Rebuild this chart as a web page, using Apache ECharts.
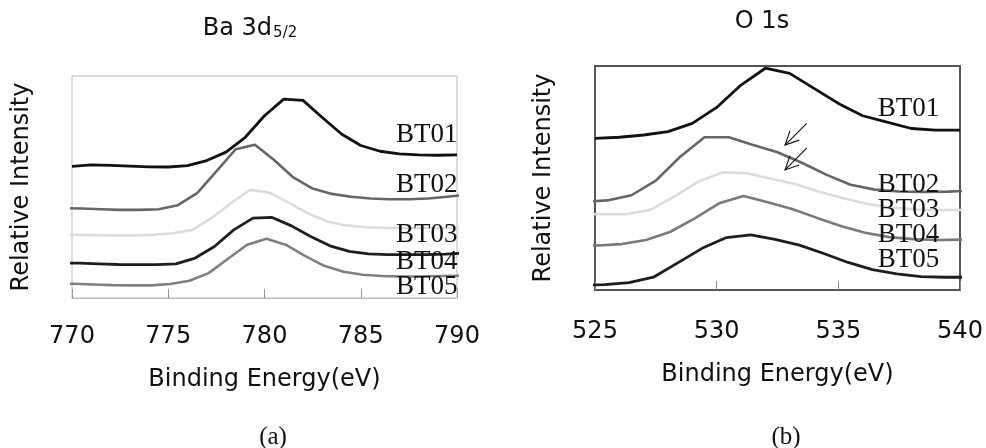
<!DOCTYPE html>
<html>
<head>
<meta charset="utf-8">
<script src="https://cdn.jsdelivr.net/npm/echarts@6/dist/echarts.min.js"></script>
<style>
  html, body { margin: 0; padding: 0; background: #fff; }
  #chart { width: 986px; height: 448px; }
</style>
</head>
<body>
<div id="chart"></div>
<script>
  // sample names
  const sampleNames = ['BT01', 'BT02', 'BT03', 'BT04', 'BT05'];

  // (a) Ba 3d5/2 - binding energy (eV) and relative intensity per sample
  const baEnergy01 = [770, 771, 772, 773, 774, 775, 776, 777, 778, 779, 780, 781, 782, 783, 784, 785, 786, 787, 788, 789, 790];
  const baInt01 = [59.3, 60.0, 59.7, 59.4, 59.1, 59.0, 59.6, 61.9, 65.7, 72.4, 82.1, 89.6, 89.0, 81.3, 73.9, 68.7, 66.1, 64.9, 64.5, 64.3, 64.5];
  const baEnergy02 = [769.5, 770.5, 771.5, 772.5, 773.5, 774.5, 775.5, 776.5, 777.5, 778.5, 779.5, 780.5, 781.5, 782.5, 783.5, 784.5, 785.5, 786.5, 787.5, 788.5, 789.5, 790.5];
  const baInt02 = [40.5, 40.3, 40.0, 39.7, 39.7, 40.0, 41.8, 47.2, 57.0, 67.0, 69.0, 62.2, 54.3, 49.3, 46.9, 45.6, 44.8, 44.5, 44.5, 44.8, 45.6, 46.5];
  const baEnergy03 = [769.25, 770.25, 771.25, 772.25, 773.25, 774.25, 775.25, 776.25, 777.25, 778.25, 779.25, 780.25, 781.25, 782.25, 783.25, 784.25, 785.25, 786.25, 787.25, 788.25, 789.25, 790.25];
  const baInt03 = [28.5, 28.5, 28.3, 28.2, 28.2, 28.5, 29.2, 30.7, 36.0, 42.7, 48.7, 47.5, 43.0, 38.2, 34.5, 32.7, 31.9, 31.6, 31.5, 31.5, 31.5, 31.5];
  const baEnergy04 = [769.4, 770.4, 771.4, 772.4, 773.4, 774.4, 775.4, 776.4, 777.4, 778.4, 779.4, 780.4, 781.4, 782.4, 783.4, 784.4, 785.4, 786.4, 787.4, 788.4, 789.4, 790.4];
  const baInt04 = [15.8, 15.7, 15.4, 15.1, 15.0, 15.0, 15.4, 18.0, 23.2, 30.7, 36.0, 36.3, 32.5, 27.7, 23.5, 21.0, 19.9, 19.5, 19.5, 19.5, 19.8, 20.2];
  const baEnergy05 = [769.1, 770.1, 771.1, 772.1, 773.1, 774.1, 775.1, 776.1, 777.1, 778.1, 779.1, 780.1, 781.1, 782.1, 783.1, 784.1, 785.1, 786.1, 787.1, 788.1, 789.1, 790.1];
  const baInt05 = [6.6, 6.4, 6.1, 5.8, 5.7, 5.7, 6.3, 7.8, 11.2, 17.7, 24.0, 26.7, 24.0, 19.0, 14.5, 11.8, 10.5, 9.9, 9.7, 9.7, 9.9, 10.0];

  // (b) O 1s
  const oEnergy01 = [525, 526, 527, 528, 529, 530, 531, 532, 533, 534, 535, 536, 537, 538, 539, 540];
  const oInt01 = [67.7, 68.2, 69.2, 70.7, 74.4, 81.5, 91.5, 99.0, 96.7, 90.0, 83.3, 77.8, 74.9, 72.1, 71.4, 71.4];
  const oEnergy02 = [524.5, 525.5, 526.5, 527.5, 528.5, 529.5, 530.5, 531.5, 532.5, 533.5, 534.5, 535.5, 536.5, 537.5, 538.5, 539.5, 540.5];
  const oInt02 = [39.4, 40.0, 42.3, 48.8, 59.5, 68.2, 68.2, 64.7, 61.5, 56.8, 51.5, 47.0, 44.8, 44.0, 43.8, 43.9, 44.4];
  const oEnergy03 = [524.25, 525.25, 526.25, 527.25, 528.25, 529.25, 530.25, 531.25, 532.25, 533.25, 534.25, 535.25, 536.25, 537.25, 538.25, 539.25, 540.25];
  const oInt03 = [33.8, 33.8, 33.8, 35.7, 41.7, 48.4, 52.5, 52.1, 49.7, 47.2, 43.8, 40.8, 38.3, 36.8, 35.9, 35.7, 35.7];
  const oEnergy04 = [524.1, 525.1, 526.1, 527.1, 528.1, 529.1, 530.1, 531.1, 532.1, 533.1, 534.1, 535.1, 536.1, 537.1, 538.1, 539.1, 540.1];
  const oInt04 = [19.8, 19.9, 20.5, 22.3, 26.0, 32.0, 38.7, 42.0, 39.2, 36.2, 32.3, 28.6, 25.6, 23.6, 22.7, 22.3, 22.5];
  const oEnergy05 = [524.4, 525.4, 526.4, 527.4, 528.4, 529.4, 530.4, 531.4, 532.4, 533.4, 534.4, 535.4, 536.4, 537.4, 538.4, 539.4, 540.4];
  const oInt05 = [2.1, 2.4, 3.3, 5.7, 12.1, 18.6, 23.4, 24.6, 22.6, 20.0, 16.3, 12.3, 9.1, 7.2, 6.0, 5.7, 5.7];

  // label anchors [energy, intensity] for the sample names
  const baLabelAt = [[786.8, 73.4], [786.8, 50.9], [786.8, 28.4], [786.8, 16.2], [786.8, 5.0]];
  const oLabelAt = [[536.6, 80.8], [536.6, 46.9], [536.6, 35.7], [536.6, 24.6], [536.6, 13.4]];

  // arrows in O 1s panel: [fromE, fromI, toE, toI]
  const oArrows = [[533.7, 74.4, 532.81, 64.7], [533.7, 63.3, 532.81, 53.6]];

  const baLines = [[baEnergy01, baInt01], [baEnergy02, baInt02], [baEnergy03, baInt03], [baEnergy04, baInt04], [baEnergy05, baInt05]];
  const oLines = [[oEnergy01, oInt01], [oEnergy02, oInt02], [oEnergy03, oInt03], [oEnergy04, oInt04], [oEnergy05, oInt05]];

  const baColors = ['#111111', '#666666', '#dcdcdc', '#1e1e1e', '#808080'];
  const oColors = ['#111111', '#666666', '#dcdcdc', '#7a7a7a', '#1e1e1e'];

  const sans = 'DejaVu Sans';
  const serif = 'Liberation Serif';

  function pairs(xs, ys) {
    return xs.map((x, i) => [x, ys[i]]);
  }

  function makeSeries(lines, colors, labelAt, idx) {
    return lines.map((ln, i) => ({
      name: sampleNames[i] + (idx ? '_o' : '_ba'),
      type: 'line',
      xAxisIndex: idx,
      yAxisIndex: idx,
      data: pairs(ln[0], ln[1]),
      symbol: 'none',
      clip: true,
      lineStyle: { color: colors[i], width: (colors[i] === '#111111' || colors[i] === '#1e1e1e') ? 2.8 : 2.6 },
      z: 2,
      markPoint: {
        symbol: 'circle',
        symbolSize: 1,
        itemStyle: { color: 'rgba(0,0,0,0)' },
        animation: false,
        z: 5,
        label: {
          show: true,
          position: 'right',
          distance: 0,
          formatter: sampleNames[i],
          color: '#111',
          fontFamily: serif,
          fontSize: 27
        },
        data: [{ coord: labelAt[i] }]
      }
    }));
  }

  let dom = document.getElementById('chart');
  let myChart = echarts.init(dom, null, { renderer: 'canvas' });

  let axisName = { fontFamily: sans, fontSize: 24, color: '#111' };

  let option = {
    animation: false,
    backgroundColor: '#fff',
    title: [
      {
        text: '{a|Ba 3d}{s|5/2}',
        left: 245, top: 12, textAlign: 'center',
        textStyle: {
          fontWeight: 'normal',
          rich: {
            a: { fontFamily: sans, fontSize: 24, fontWeight: 'normal', color: '#111' },
            s: { fontFamily: sans, fontSize: 15, fontWeight: 'normal', color: '#111', verticalAlign: 'bottom', padding: [0, 0, 0, 1] }
          }
        }
      },
      { text: 'O 1s', left: 757, top: 5, textAlign: 'center', textStyle: { fontFamily: sans, fontSize: 24, fontWeight: 'normal', color: '#111' } },
      { text: '(a)', left: 268, top: 420, textAlign: 'center', textStyle: { fontFamily: serif, fontSize: 25, fontWeight: 'normal', color: '#111' } },
      { text: '(b)', left: 781, top: 420, textAlign: 'center', textStyle: { fontFamily: serif, fontSize: 25, fontWeight: 'normal', color: '#111' } }
    ],
    grid: [
      { left: 72, top: 76, width: 385, height: 222, show: true, borderColor: '#bdbdbd', borderWidth: 1 },
      { left: 595, top: 66, width: 365, height: 224, show: true, borderColor: '#555', borderWidth: 2 }
    ],
    xAxis: [
      {
        gridIndex: 0, type: 'value', min: 770, max: 790, interval: 5,
        name: 'Binding Energy(eV)', nameLocation: 'middle', nameGap: 70, nameTextStyle: axisName,
        axisLine: { lineStyle: { color: '#bdbdbd', width: 1 } },
        axisTick: { inside: true, length: 9, lineStyle: { color: '#999' } },
        axisLabel: { margin: 27, fontFamily: sans, fontSize: 24, color: '#111' },
        splitLine: { show: false }
      },
      {
        gridIndex: 1, type: 'value', min: 525, max: 540, interval: 5,
        name: 'Binding Energy(eV)', nameLocation: 'middle', nameGap: 73, nameTextStyle: axisName,
        axisLine: { lineStyle: { color: '#555', width: 2 } },
        axisTick: { inside: true, length: 9, lineStyle: { color: '#888' } },
        axisLabel: { margin: 30, fontFamily: sans, fontSize: 24, color: '#111' },
        splitLine: { show: false }
      }
    ],
    yAxis: [
      {
        gridIndex: 0, type: 'value', min: 0, max: 100,
        name: 'Relative Intensity', nameLocation: 'middle', nameGap: 38, nameRotate: 90, nameTextStyle: axisName,
        axisLine: { show: false }, axisTick: { show: false }, axisLabel: { show: false }, splitLine: { show: false }
      },
      {
        gridIndex: 1, type: 'value', min: 0, max: 100,
        name: 'Relative Intensity', nameLocation: 'middle', nameGap: 39, nameRotate: 90, nameTextStyle: axisName,
        axisLine: { show: false }, axisTick: { show: false }, axisLabel: { show: false }, splitLine: { show: false }
      }
    ],
    series: makeSeries(baLines, baColors, baLabelAt, 0).concat(makeSeries(oLines, oColors, oLabelAt, 1))
  };

  myChart.setOption(option);

  // open arrow heads drawn from data coordinates
  function drawArrows() {
    let elements = [];
    oArrows.forEach((a) => {
      let p0 = myChart.convertToPixel({ xAxisIndex: 1, yAxisIndex: 1 }, [a[0], a[1]]);
      let p1 = myChart.convertToPixel({ xAxisIndex: 1, yAxisIndex: 1 }, [a[2], a[3]]);
      let ang = Math.atan2(p0[1] - p1[1], p0[0] - p1[0]);
      let len = 15, spread = 0.45;
      let h1 = [p1[0] + len * Math.cos(ang + spread), p1[1] + len * Math.sin(ang + spread)];
      let h2 = [p1[0] + len * Math.cos(ang - spread), p1[1] + len * Math.sin(ang - spread)];
      let st = { stroke: '#111', lineWidth: 1.1, fill: null };
      elements.push({ type: 'polyline', shape: { points: [p0, p1] }, style: st, z: 10 });
      elements.push({ type: 'polyline', shape: { points: [h1, p1, h2] }, style: st, z: 10 });
    });
    myChart.setOption({ graphic: elements });
  }
  drawArrows();

  window.addEventListener('resize', () => { myChart.resize(); drawArrows(); });
</script>
</body>
</html>
